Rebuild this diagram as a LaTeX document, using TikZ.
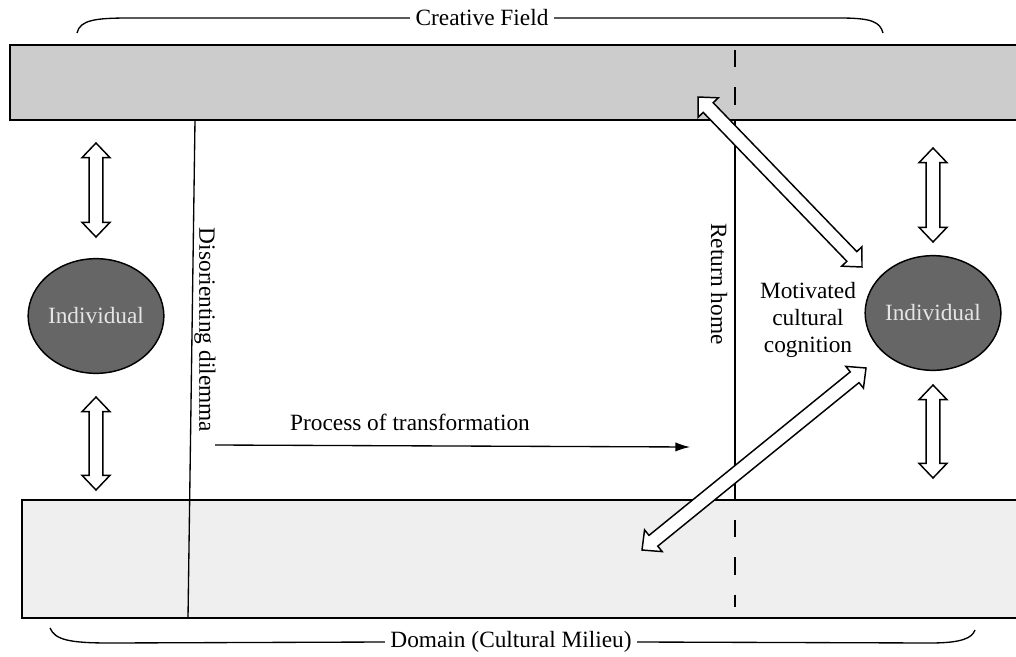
\documentclass[tikz,border=0pt]{standalone}
\usepackage{fontspec}
\setmainfont{Liberation Serif}
\usetikzlibrary{calc,shapes.geometric,arrows.meta}
\definecolor{fieldgray}{HTML}{CCCCCC}
\definecolor{domaingray}{HTML}{EFEFEF}
\definecolor{persongray}{HTML}{666666}
\tikzset{
  person/.style={ellipse,draw,line width=1.1pt,fill=persongray,text=white!90!black,
    minimum width=91pt,minimum height=86pt,inner sep=0pt},
  bracket/.style={line width=1pt},
  border/.style={line width=1pt},
  fatarrow/.style={draw,fill=white,line width=1.1pt,line join=miter,
    to path={-- ($(\tikztostart)!11pt!(\tikztotarget)!10.5pt!90:(\tikztotarget)$)
      -- ($(\tikztostart)!11pt!(\tikztotarget)!5.2pt!90:(\tikztotarget)$)
      -- ($(\tikztotarget)!11pt!(\tikztostart)!5.2pt!-90:(\tikztostart)$)
      -- ($(\tikztotarget)!11pt!(\tikztostart)!10.5pt!-90:(\tikztostart)$)
      -- (\tikztotarget)
      -- ($(\tikztotarget)!11pt!(\tikztostart)!10.5pt!90:(\tikztostart)$)
      -- ($(\tikztotarget)!11pt!(\tikztostart)!5.2pt!90:(\tikztostart)$)
      -- ($(\tikztostart)!11pt!(\tikztotarget)!5.2pt!-90:(\tikztotarget)$)
      -- ($(\tikztostart)!11pt!(\tikztotarget)!10.5pt!-90:(\tikztotarget)$)
      -- cycle}}
}

\begin{document}
\begin{tikzpicture}[x=0.75pt,y=-0.75pt,font=\fontsize{17.5}{20}\selectfont]
\useasboundingbox (0,0) rectangle (1016,656);
% field and domain bars
\fill[fieldgray] (10,45) rectangle (1016,120);
\draw[line width=1.4pt] (1016,45) -- (10,45) -- (10,120) -- (1016,120);
\fill[domaingray] (22,500) rectangle (1016,618);
\draw[line width=1.4pt] (1016,500) -- (22,500) -- (22,618) -- (1016,618);

% braces
\node[inner sep=4pt] (field) at (482,18) {Creative Field};
\draw[bracket] (77,33) .. controls (80,20) and (95,18) .. (130,18) -- (field.west);
\draw[bracket] (field.east) -- (840,18) .. controls (872,18) and (880,22) .. (883,33);
\node[inner sep=4pt] (domain) at (511,642) {Domain (Cultural Milieu)};
\draw[bracket] (50,628) .. controls (55,640) and (70,643) .. (110,643) -- (domain.west);
\draw[bracket] (domain.east) -- (930,643) .. controls (962,643) and (972,638) .. (975,630);

% dilemma and return
\draw[border] (195,120) -- (188,618);
\node[rotate=-90] (dilemma) at (205,330) {Disorienting dilemma};
\draw[border] (735,120) -- (735,500);
\draw[border,dash pattern=on 13pt off 15pt] (735,50) -- (735,107);
\draw[border,dash pattern=on 13pt off 15pt] (735,520) -- (735,607);
\node[rotate=-90] (home) at (719,284) {Return home};

% individuals
\node[person] (indL) at (96,316) {Individual};
\node[person] (indR) at (933,313) {Individual};
\node[align=center] (cognition) at (808,320) {Motivated\\cultural\\cognition};

% transformation
\node (proc) at (410,422) {Process of transformation};
\coordinate (procA) at (215,445);
\coordinate (procB) at (690,447);
\draw[border,-{Latex[length=11pt,width=7pt]}] (procA) -- (procB);

% exchange arrows
\coordinate (lu1) at (96,143);  \coordinate (lu2) at (96,237);
\coordinate (ld1) at (96,397);  \coordinate (ld2) at (96,490);
\coordinate (ru1) at (933,148); \coordinate (ru2) at (933,242);
\coordinate (rd1) at (933,385); \coordinate (rd2) at (933,478);
\coordinate (du1) at (698,97);  \coordinate (du2) at (862,267);
\coordinate (dd1) at (866,368); \coordinate (dd2) at (642,550);
\draw[fatarrow] (lu1) to (lu2);
\draw[fatarrow] (ld1) to (ld2);
\draw[fatarrow] (ru1) to (ru2);
\draw[fatarrow] (rd1) to (rd2);
\draw[fatarrow] (du1) to (du2);
\draw[fatarrow] (dd1) to (dd2);
\end{tikzpicture}
\end{document}
